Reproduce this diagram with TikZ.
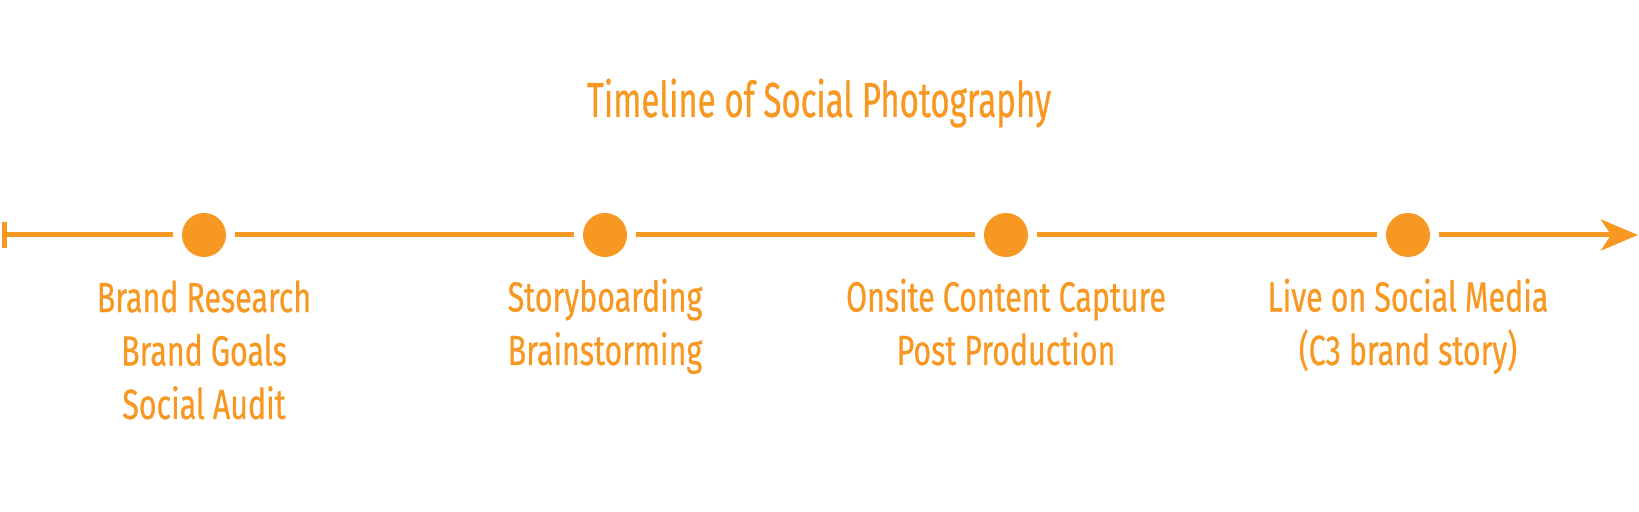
\documentclass[tikz,border=0pt]{standalone}
\usepackage{fontspec}
\setmainfont{Fira Sans}[FakeStretch=0.72, FakeBold=0.6]
\newfontfamily\titlefont{Fira Sans}[FakeStretch=0.67, FakeBold=0.6]
\usetikzlibrary{arrows.meta}
\definecolor{photoorange}{RGB}{247,152,34}

\begin{document}
\begin{tikzpicture}[x=0.01cm, y=0.01cm, photoorange,
    dot/.style={circle, fill, inner sep=0pt, minimum size=0.44cm, outer sep=0.09cm},
    stage/.style={align=center, anchor=base, inner sep=0pt, font=\fontsize{12}{15.2}\selectfont}]
    \useasboundingbox (0,0) rectangle (1639,512);
    \node[anchor=base, font=\titlefont\fontsize{14}{17}\selectfont] (title) at (819,395) {Timeline of Social Photography};
    \coordinate (start) at (2,277);
    \node[dot] (research) at (204,277) {};
    \node[dot] (story) at (605,277) {};
    \node[dot] (capture) at (1006,277) {};
    \node[dot] (live) at (1408,277) {};
    \coordinate (end) at (1638,277);
    \draw[line width=0.05cm, {Bar[width=0.26cm, length=0.04cm]}-] (start) -- (research);
    \draw[line width=0.05cm] (research) -- (story) -- (capture) -- (live);
    \draw[line width=0.05cm, -{Stealth[length=0.37cm, width=0.31cm, inset=0.1cm]}] (live) -- (end);
    % base of a stacked node is its last line
    \node[stage] (research text) at (204,93) {Brand Research\\Brand Goals\\Social Audit};
    \node[stage] (story text) at (605,147) {Storyboarding\\Brainstorming};
    \node[stage] (capture text) at (1006,147) {Onsite Content Capture\\Post Production};
    \node[stage] (live text) at (1408,147) {Live on Social Media\\(C3 brand story)};
  \end{tikzpicture}
\end{document}
